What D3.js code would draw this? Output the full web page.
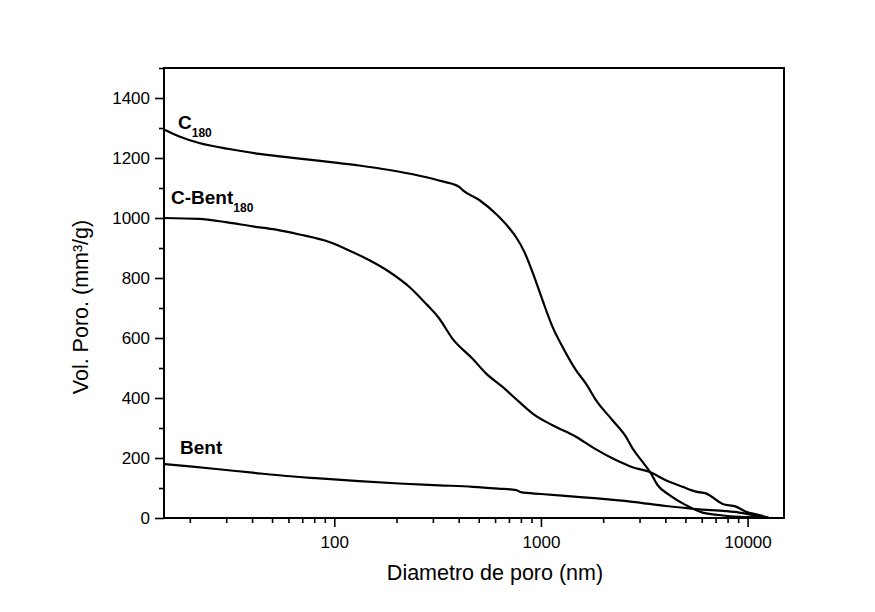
<!DOCTYPE html>
<html>
<head>
<meta charset="utf-8">
<script src="https://cdn.jsdelivr.net/npm/d3@7"></script>
<style>
  html, body { margin: 0; padding: 0; background: #fff; }
  svg { display: block; font-family: Arial, "Liberation Sans", sans-serif; }
</style>
</head>
<body>
<svg id="chart" width="875" height="612"></svg>
<script>
// Cumulative pore volume (mm³/g) vs. pore diameter (nm)
const diamC180 = [15, 17.8, 22.2, 31, 43.4, 67.8, 106, 132, 185, 258, 334, 402, 418, 503, 605, 703, 760, 830, 929, 1019, 1138, 1273, 1477, 1651, 1846, 2219, 2576, 2774, 3104, 3406, 3665, 4176, 5027, 6050, 7290, 9110, 12250, 12700];
const volC180  = [1295, 1272, 1250, 1230, 1214, 1198, 1183, 1175, 1160, 1141, 1122, 1104, 1093, 1060, 1014, 966, 935, 888, 803, 725, 637, 570, 493, 448, 393, 326, 271, 232, 187, 149, 110, 77, 43, 18, 10, 4, 2, 0];

const diamCBent = [15, 22.2, 29.9, 40.3, 52.2, 67.8, 94.6, 118, 148, 185, 231, 278, 322, 373, 467, 542, 652, 785, 912, 1138, 1477, 1812, 2306, 2774, 3342, 4024, 4845, 5623, 6286, 7565, 8790, 9825, 11380, 12700];
const volCBent  = [1000, 997, 986, 972, 961, 945, 920, 892, 859, 820, 770, 714, 665, 598, 531, 482, 437, 387, 348, 309, 271, 232, 193, 169, 154, 126, 104, 88, 82, 47, 38, 21, 10, 0];

const diamBent = [15, 20.6, 29.9, 40.3, 58.4, 84.6, 132, 206, 322, 467, 620, 760, 800, 1000, 1400, 1812, 2774, 4024, 5843, 7850, 9110, 10570, 12700];
const volBent  = [180, 171, 160, 151, 140, 132, 123, 115, 109, 104, 98, 93, 86, 80, 72, 66, 54, 40, 29, 23, 18, 10, 0];

const xMajorTicks = [100, 1000, 10000];
const xMinorTicks = [20, 30, 40, 50, 60, 70, 80, 90, 200, 300, 400, 500, 600, 700, 800, 900, 2000, 3000, 4000, 5000, 6000, 7000, 8000, 9000];
const yMajorTicks = [0, 200, 400, 600, 800, 1000, 1200, 1400];
const yMinorTicks = [100, 300, 500, 700, 900, 1100, 1300, 1500];

const seriesLabels = [
  { name: "C", sub: "180", d: diamC180, v: volC180 },
  { name: "C-Bent", sub: "180", d: diamCBent, v: volCBent },
  { name: "Bent", sub: "", d: diamBent, v: volBent }
];

const svg = d3.select("#chart");
const plotL = 164, plotR = 784, plotT = 68, plotB = 518;

const x = d3.scaleLog().domain([15, 15000]).range([plotL, plotR]);
const y = d3.scaleLinear().domain([0, 1500]).range([plotB, plotT]);

const fontStack = "Arial, 'Liberation Sans', sans-serif";

// y axis: major ticks with labels, minor ticks without
svg.append("g")
  .attr("transform", `translate(${plotL},0)`)
  .call(d3.axisLeft(y).tickValues(yMajorTicks).tickSize(9).tickPadding(5).tickFormat(d3.format("d")))
  .call(g => g.select(".domain").remove())
  .call(g => g.selectAll("line").attr("stroke", "#000").attr("stroke-width", 1.6))
  .call(g => g.selectAll("text").attr("font-size", 17).attr("fill", "#000").attr("font-family", fontStack));

svg.append("g")
  .attr("transform", `translate(${plotL},0)`)
  .call(d3.axisLeft(y).tickValues(yMinorTicks).tickSize(5).tickFormat(""))
  .call(g => g.select(".domain").remove())
  .call(g => g.selectAll("line").attr("stroke", "#000").attr("stroke-width", 1.6));

// x axis (log)
svg.append("g")
  .attr("transform", `translate(0,${plotB})`)
  .call(d3.axisBottom(x).tickValues(xMajorTicks).tickSize(9).tickPadding(9).tickFormat(d3.format("d")))
  .call(g => g.select(".domain").remove())
  .call(g => g.selectAll("line").attr("stroke", "#000").attr("stroke-width", 1.6))
  .call(g => g.selectAll("text").attr("font-size", 17).attr("fill", "#000").attr("font-family", fontStack));

svg.append("g")
  .attr("transform", `translate(0,${plotB})`)
  .call(d3.axisBottom(x).tickValues(xMinorTicks).tickSize(5).tickFormat(""))
  .call(g => g.select(".domain").remove())
  .call(g => g.selectAll("line").attr("stroke", "#000").attr("stroke-width", 1.6));

// frame
svg.append("rect")
  .attr("x", plotL).attr("y", plotT)
  .attr("width", plotR - plotL).attr("height", plotB - plotT)
  .attr("fill", "none").attr("stroke", "#000").attr("stroke-width", 2);

// curves
const line = d3.line()
  .x(p => x(p[0]))
  .y(p => y(p[1]))
  .curve(d3.curveMonotoneX);

seriesLabels.forEach(s => {
  const pts = s.d.map((d, i) => [d, s.v[i]]);
  svg.append("path")
    .datum(pts)
    .attr("fill", "none")
    .attr("stroke", "#000")
    .attr("stroke-width", 2.2)
    .attr("stroke-linejoin", "round")
    .attr("d", line);
});

// curve labels with subscripts
const labelPos = [
  { x: 178, y: 129 },
  { x: 171, y: 204 },
  { x: 180, y: 454 }
];
seriesLabels.forEach((s, i) => {
  const t = svg.append("text")
    .attr("x", labelPos[i].x).attr("y", labelPos[i].y)
    .attr("font-size", 19).attr("font-weight", "bold").attr("fill", "#000");
  t.append("tspan").text(s.name);
  if (s.sub) {
    t.append("tspan").attr("font-size", 12).attr("dy", 8).text(s.sub);
  }
});

// axis titles
svg.append("text")
  .attr("x", (plotL + plotR) / 2 + 21).attr("y", 580)
  .attr("text-anchor", "middle").attr("font-size", 21.5).attr("fill", "#000")
  .text("Diametro de poro (nm)");

svg.append("text")
  .attr("transform", `translate(88,307) rotate(-90)`)
  .attr("text-anchor", "middle").attr("font-size", 21.5).attr("fill", "#000")
  .text("Vol. Poro. (mm³/g)");
</script>
</body>
</html>
